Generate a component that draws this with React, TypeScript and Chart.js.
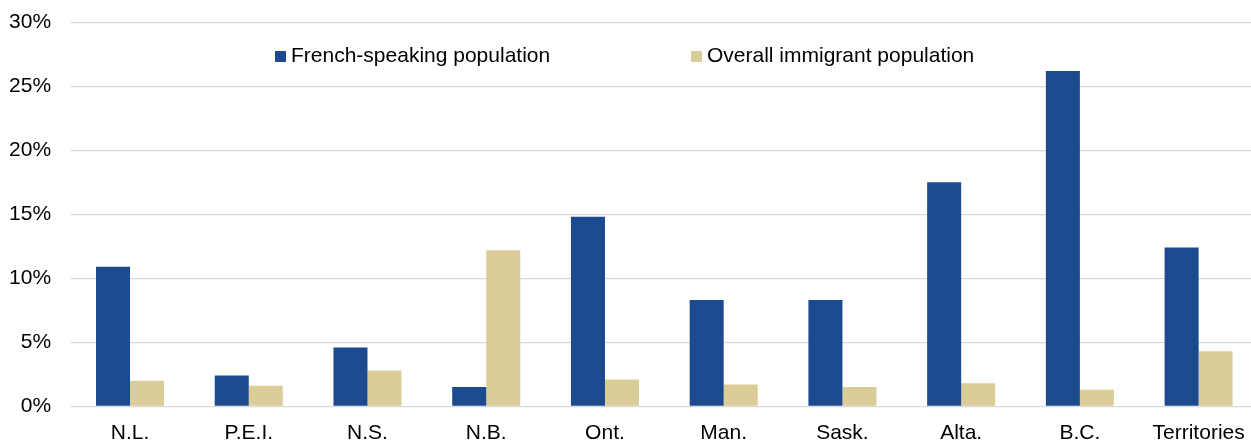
import React, { useEffect, useRef } from "react";
import { Chart, registerables } from "chart.js";

Chart.register(...registerables);

const categories = ["N.L.", "P.E.I.", "N.S.", "N.B.", "Ont.", "Man.", "Sask.", "Alta.", "B.C.", "Territories"];
const frenchSpeaking = [10.9, 2.4, 4.6, 1.5, 14.8, 8.3, 8.3, 17.5, 26.2, 12.4];
const overallImmigrant = [2.0, 1.6, 2.8, 12.2, 2.1, 1.7, 1.5, 1.8, 1.3, 4.3];
const seriesNames = ["French-speaking population", "Overall immigrant population"];
const yTicks = [0, 5, 10, 15, 20, 25, 30];

const BLUE = "#1c4a8f";
const BEIGE = "#dacd98";
const FONT = '"Liberation Sans", Arial, sans-serif';
const FONT_SIZE = 21;

const CANVAS_W = 1258;
const CANVAS_H = 460;

export default function App() {
  const ref = useRef<HTMLCanvasElement | null>(null);

  useEffect(() => {
    if (!ref.current) return;
    const legendPlugin = {
      id: "floatingLegend",
      afterDraw(chart: any) {
        const ctx = chart.ctx;
        ctx.save();
        ctx.font = `${FONT_SIZE}px ${FONT}`;
        ctx.textBaseline = "middle";
        ctx.textAlign = "left";
        const items = [
          { x: 275, color: BLUE, text: seriesNames[0] },
          { x: 691, color: BEIGE, text: seriesNames[1] },
        ];
        for (const it of items) {
          ctx.fillStyle = it.color;
          ctx.fillRect(it.x, 51, 11, 11);
          ctx.fillStyle = "#000";
          ctx.fillText(it.text, it.x + 16, 56.5);
        }
        ctx.restore();
      },
    };

    const chart = new Chart(ref.current, {
      type: "bar",
      data: {
        labels: categories,
        datasets: [
          {
            label: seriesNames[0],
            data: frenchSpeaking,
            backgroundColor: BLUE,
            categoryPercentage: 0.573,
            barPercentage: 1,
          },
          {
            label: seriesNames[1],
            data: overallImmigrant,
            backgroundColor: BEIGE,
            categoryPercentage: 0.573,
            barPercentage: 1,
          },
        ],
      },
      options: {
        animation: false,
        responsive: false,
        devicePixelRatio: 1,
        layout: { padding: { top: 22.3, left: 0, right: 0, bottom: 0 } },
        plugins: {
          legend: { display: false },
          tooltip: { enabled: false },
        },
        scales: {
          x: {
            grid: { display: false, drawTicks: false },
            border: { display: false },
            ticks: {
              color: "#000",
              font: { family: FONT, size: FONT_SIZE },
              padding: 14,
              maxRotation: 0,
              autoSkip: false,
            },
            afterFit: (scale: any) => {
              scale.height = CANVAS_H - 406.3;
              scale.paddingLeft = 0;
              scale.paddingRight = 0;
            },
          },
          y: {
            min: 0,
            max: 30,
            afterBuildTicks: (scale: any) => {
              scale.ticks = yTicks.map((v) => ({ value: v }));
            },
            grid: { color: "#d9d9d9", lineWidth: 1.3, drawTicks: false },
            border: { display: false },
            ticks: {
              color: "#000",
              font: { family: FONT, size: FONT_SIZE },
              padding: 19.6,
              callback: (v: any) => `${v}%`,
            },
            afterFit: (scale: any) => {
              scale.width = 70.65;
              scale.paddingTop = 0;
              scale.paddingBottom = 0;
            },
          },
        },
      },
      plugins: [legendPlugin],
    });
    return () => chart.destroy();
  }, []);

  return (
    <div
      style={{
        position: "fixed",
        left: 0,
        top: 0,
        width: 1251,
        height: 442,
        overflow: "hidden",
        background: "#fff",
      }}
    >
      <canvas ref={ref} width={CANVAS_W} height={CANVAS_H} style={{ display: "block" }} />
    </div>
  );
}
